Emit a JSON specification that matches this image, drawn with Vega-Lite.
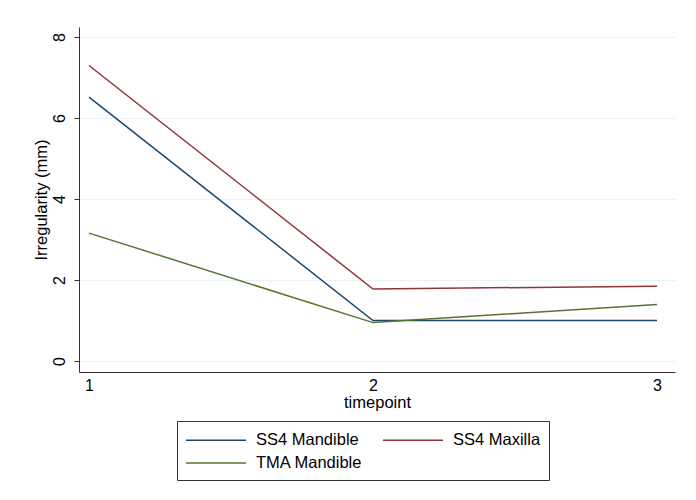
{
  "$schema": "https://vega.github.io/schema/vega-lite/v6.json",
  "autosize": {"type": "none"},
  "padding": {"left": 79, "top": 27, "right": 21, "bottom": 128},
  "width": 596,
  "height": 345,
  "background": "white",
  "data": {
    "values": [
      {"timepoint": 1, "group": "SS4 Mandible", "irregularity": 6.52},
      {"timepoint": 2, "group": "SS4 Mandible", "irregularity": 1.0},
      {"timepoint": 3, "group": "SS4 Mandible", "irregularity": 1.0},
      {"timepoint": 1, "group": "SS4 Maxilla", "irregularity": 7.3},
      {"timepoint": 2, "group": "SS4 Maxilla", "irregularity": 1.78},
      {"timepoint": 3, "group": "SS4 Maxilla", "irregularity": 1.85},
      {"timepoint": 1, "group": "TMA Mandible", "irregularity": 3.16},
      {"timepoint": 2, "group": "TMA Mandible", "irregularity": 0.95},
      {"timepoint": 3, "group": "TMA Mandible", "irregularity": 1.4}
    ]
  },
  "mark": {"type": "line", "strokeWidth": 1.5, "clip": true},
  "encoding": {
    "x": {
      "field": "timepoint",
      "type": "ordinal",
      "scale": {"type": "point", "padding": 0.0493, "align": 0.357},
      "axis": {
        "title": "timepoint",
        "grid": false,
        "ticks": false,
        "labelAngle": 0,
        "labelPadding": 5,
        "titlePadding": 1
      }
    },
    "y": {
      "field": "irregularity",
      "type": "quantitative",
      "scale": {"domain": [-0.27, 8.25], "nice": false, "zero": false},
      "axis": {
        "values": [0, 2, 4, 6, 8],
        "title": "Irregularity (mm)",
        "grid": true,
        "gridColor": "#eaf2f3",
        "gridWidth": 1,
        "tickSize": 5,
        "labelAngle": -90,
        "labelAlign": "center",
        "labelBaseline": "bottom",
        "labelFlush": false,
        "labelOverlap": false,
        "labelPadding": 7,
        "titlePadding": 2
      }
    },
    "color": {
      "field": "group",
      "type": "nominal",
      "scale": {
        "domain": ["SS4 Mandible", "SS4 Maxilla", "TMA Mandible"],
        "range": ["#1a476f", "#90353b", "#55752f"]
      },
      "legend": {
        "title": null,
        "orient": "none",
        "legendX": 98,
        "legendY": 394,
        "direction": "horizontal",
        "columns": 2,
        "columnPadding": 17,
        "rowPadding": 3,
        "padding": 8,
        "strokeColor": "#333333",
        "symbolType": "M-1,0H5",
        "symbolSize": 400,
        "symbolFillColor": "transparent",
        "symbolStrokeWidth": 1.5,
        "labelOffset": 49,
        "labelFontSize": 16.5,
        "labelLimit": 200
      }
    }
  },
  "config": {
    "font": "Liberation Sans",
    "view": {"stroke": null},
    "axis": {
      "domainColor": "#333333",
      "tickColor": "#333333",
      "labelColor": "#000000",
      "titleColor": "#000000",
      "labelFont": "Liberation Sans",
      "titleFont": "Liberation Sans",
      "labelFontSize": 16,
      "titleFontSize": 16.5,
      "titleFontWeight": "normal"
    },
    "legend": {
      "labelFont": "Liberation Sans",
      "labelColor": "#000000"
    }
  }
}
